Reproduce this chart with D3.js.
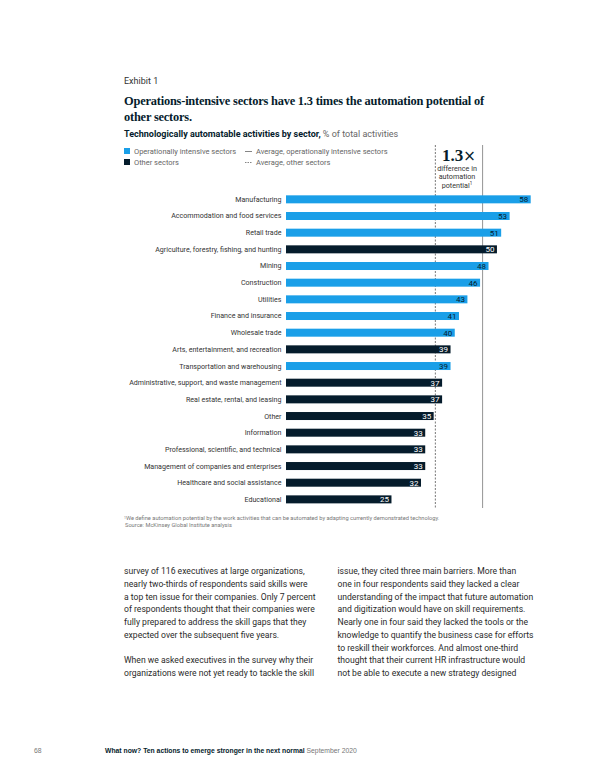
<!DOCTYPE html>
<html><head><meta charset="utf-8">
<script src="https://cdn.jsdelivr.net/npm/d3@7"></script>
<style>
html,body{margin:0;padding:0;background:#fff;}
svg{display:block;}
</style></head>
<body>
<svg id="c" width="600" height="776"></svg>
<script>
const categories = ["Manufacturing","Accommodation and food services","Retail trade","Agriculture, forestry, fishing, and hunting","Mining","Construction","Utilities","Finance and insurance","Wholesale trade","Arts, entertainment, and recreation","Transportation and warehousing","Administrative, support, and waste management","Real estate, rental, and leasing","Other","Information","Professional, scientific, and technical","Management of companies and enterprises","Healthcare and social assistance","Educational"];
const values = [58,53,51,50,48,46,43,41,40,39,39,37,37,35,33,33,33,32,25];
const groups = ["op","op","op","other","op","op","op","op","op","other","op","other","other","other","other","other","other","other","other"];
const averages = {op:46.6, other:35.4};
const legendLabels = ["Operationally intensive sectors","Other sectors","Average, operationally intensive sectors","Average, other sectors"];
const leftCol = ["survey of 116 executives at large organizations,","nearly two-thirds of respondents said skills were","a top ten issue for their companies. Only 7 percent","of respondents thought that their companies were","fully prepared to address the skill gaps that they","expected over the subsequent five years.","","When we asked executives in the survey why their","organizations were not yet ready to tackle the skill"];
const rightCol = ["issue, they cited three main barriers. More than","one in four respondents said they lacked a clear","understanding of the impact that future automation","and digitization would have on skill requirements.","Nearly one in four said they lacked the tools or the","knowledge to quantify the business case for efforts","to reskill their workforces. And almost one-third","thought that their current HR infrastructure would","not be able to execute a new strategy designed"];

const BLUE = "#1a9fe8", DARK = "#051c2c";
const SANS = "Roboto, 'Liberation Sans', Arial, sans-serif";
const SERIF = "'Liberation Serif', 'DejaVu Serif', serif";
const svg = d3.select("#c");

// header
svg.append("text").attr("x",124).attr("y",84).attr("font-family",SANS).attr("font-size",9).attr("fill","#333").text("Exhibit 1");
const title = svg.append("text").attr("font-family",SERIF).attr("font-weight","bold").attr("font-size",12.4).attr("letter-spacing",-0.2).attr("fill",DARK);
title.append("tspan").attr("x",124).attr("y",105).text("Operations-intensive sectors have 1.3 times the automation potential of");
title.append("tspan").attr("x",124).attr("y",121).text("other sectors.");
const sub = svg.append("text").attr("x",124).attr("y",137).attr("font-family",SANS).attr("font-size",9).attr("fill",DARK);
sub.append("tspan").attr("font-weight","bold").text("Technologically automatable activities by sector,");
sub.append("tspan").attr("fill","#666").text(" % of total activities");

// legend
const lg = svg.append("g").attr("font-family",SANS).attr("font-size",7.5).attr("fill","#666");
lg.append("rect").attr("x",124).attr("y",148).attr("width",6).attr("height",6).attr("fill",BLUE);
lg.append("rect").attr("x",124).attr("y",159).attr("width",6).attr("height",6).attr("fill",DARK);
lg.append("text").attr("x",134).attr("y",154).text(legendLabels[0]);
lg.append("text").attr("x",134).attr("y",165).text(legendLabels[1]);
lg.append("line").attr("x1",245).attr("x2",252).attr("y1",151.5).attr("y2",151.5).attr("stroke","#666").attr("stroke-width",0.8);
lg.append("line").attr("x1",245).attr("x2",252).attr("y1",162.5).attr("y2",162.5).attr("stroke","#666").attr("stroke-width",0.8).attr("stroke-dasharray","1.5,1");
lg.append("text").attr("x",256).attr("y",154).text(legendLabels[2]);
lg.append("text").attr("x",256).attr("y",165).text(legendLabels[3]);

// scales
const x = d3.scaleLinear().domain([0,58]).range([286,530.7]);
const y = d3.scaleBand().domain(categories).range([191,507.7]).paddingInner(0.52).paddingOuter(0.26);
const data = categories.map((c,i)=>({c, v:values[i], g:groups[i]}));

// average lines
svg.append("line").attr("x1",x(averages.other)).attr("x2",x(averages.other)).attr("y1",145).attr("y2",508)
  .attr("stroke","#555").attr("stroke-width",0.8).attr("stroke-dasharray","2,1.5");
svg.append("line").attr("x1",x(averages.op)).attr("x2",x(averages.op)).attr("y1",145).attr("y2",508)
  .attr("stroke","#777").attr("stroke-width",0.8);

// 1.3x annotation
const ann = svg.append("text").attr("x",442).attr("y",160.5).attr("font-family",SERIF).attr("font-weight","bold").attr("font-size",17).attr("fill",DARK);
ann.append("tspan").text("1.3");
ann.append("tspan").attr("font-weight","normal").attr("font-family","'DejaVu Sans', sans-serif").attr("font-size",15).text("×");
const annT = svg.append("text").attr("font-family",SANS).attr("font-size",7.2).attr("fill","#333").attr("text-anchor","middle");
annT.append("tspan").attr("x",457).attr("y",170.5).text("difference in");
annT.append("tspan").attr("x",457).attr("y",179).text("automation");
annT.append("tspan").attr("x",457).attr("y",187.5).text("potential");
annT.append("tspan").attr("font-size",4.5).attr("dy",-2.5).text("1");

// bars
svg.append("g").selectAll("rect").data(data).join("rect")
  .attr("x",x(0)).attr("y",d=>y(d.c)).attr("width",d=>x(d.v)-x(0)).attr("height",y.bandwidth())
  .attr("fill",d=>d.g==="op"?BLUE:DARK);
// category labels
svg.append("g").selectAll("text").data(data).join("text")
  .attr("x",281.5).attr("y",d=>y(d.c)+y.bandwidth()/2).attr("dy","0.35em").attr("text-anchor","end")
  .attr("font-family",SANS).attr("font-size",7.1).attr("fill","#333").text(d=>d.c);
// value labels
svg.append("g").selectAll("text").data(data).join("text")
  .attr("x",d=>x(d.v)-2.5).attr("y",d=>y(d.c)+y.bandwidth()/2).attr("dy","0.36em").attr("text-anchor","end")
  .attr("font-family",SANS).attr("font-size",8).attr("fill",d=>d.g==="op"?DARK:"#fff").text(d=>d.v);

// footnote
const fn = svg.append("g").attr("font-family",SANS).attr("font-size",5.7).attr("fill","#777");
const f1 = fn.append("text").attr("x",124).attr("y",520);
f1.append("tspan").attr("font-size",3.5).attr("dy",-1.5).text("1");
f1.append("tspan").attr("dy",1.5).text("We define automation potential by the work activities that can be automated by adapting currently demonstrated technology.");
fn.append("text").attr("x",125).attr("y",527).text("Source: McKinsey Global Institute analysis");

// body text
const body = svg.append("g").attr("font-family",SANS).attr("font-size",8.6).attr("fill","#2a2a2a");
body.selectAll(".l").data(leftCol).join("text").attr("x",124).attr("y",(d,i)=>574+i*12.75).text(d=>d);
body.selectAll(".r").data(rightCol).join("text").attr("x",337.5).attr("y",(d,i)=>574+i*12.75).text(d=>d);

// footer
const ft = svg.append("g").attr("font-family","'Liberation Sans', Arial, sans-serif").attr("font-size",6.8);
ft.append("text").attr("x",34).attr("y",753).attr("fill","#777").text("68");
const ft2 = ft.append("text").attr("x",105).attr("y",753);
ft2.append("tspan").attr("font-weight","bold").attr("fill",DARK).text("What now? Ten actions to emerge stronger in the next normal");
ft2.append("tspan").attr("fill","#777").text(" September 2020");
</script>
</body></html>
